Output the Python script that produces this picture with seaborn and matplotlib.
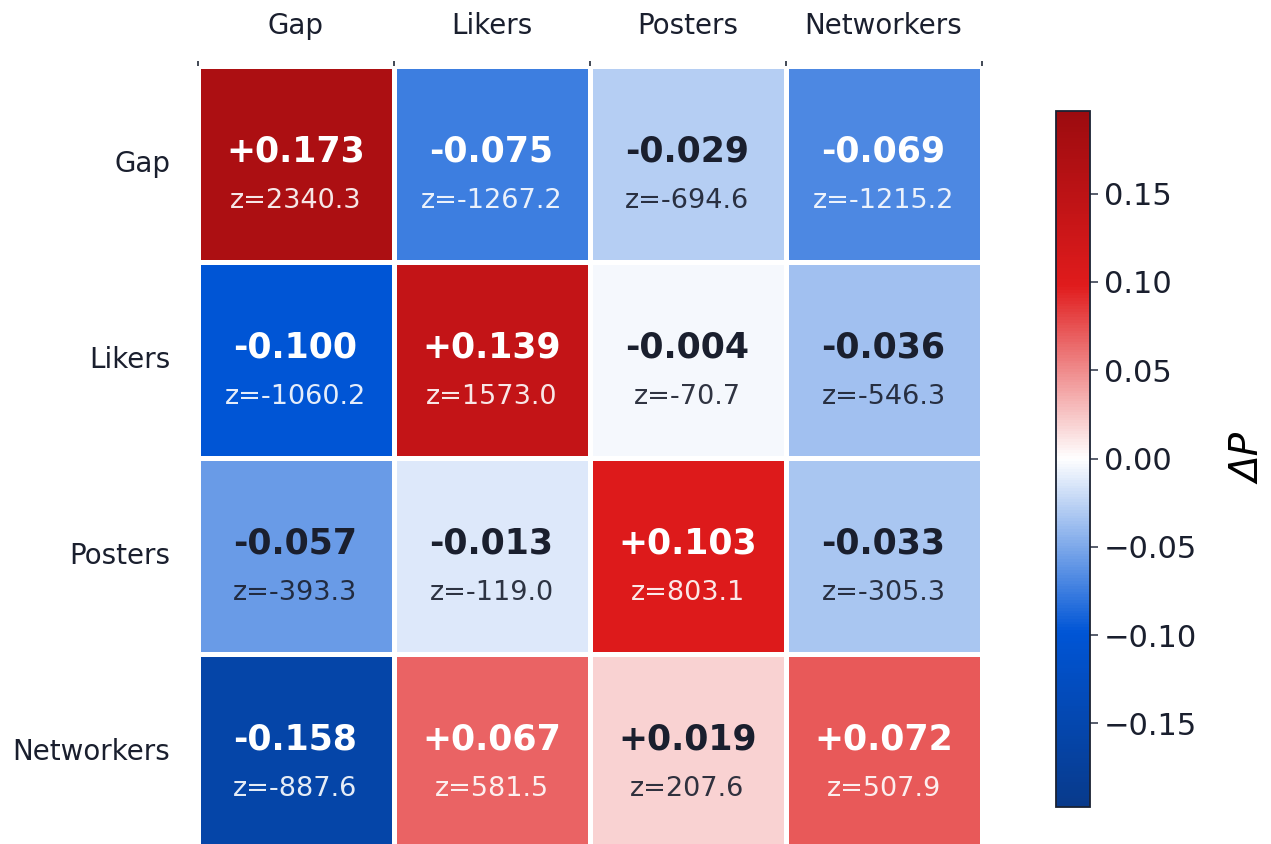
import numpy as np
import pandas as pd
import matplotlib
matplotlib.use("Agg")
import matplotlib.pyplot as plt
import seaborn as sns
from matplotlib.colors import LinearSegmentedColormap

groups = ["Gap", "Likers", "Posters", "Networkers"]
delta_p = [
    [0.173, -0.075, -0.029, -0.069],
    [-0.100, 0.139, -0.004, -0.036],
    [-0.057, -0.013, 0.103, -0.033],
    [-0.158, 0.067, 0.019, 0.072],
]
z_scores = [
    [2340.3, -1267.2, -694.6, -1215.2],
    [-1060.2, 1573.0, -70.7, -546.3],
    [-393.3, -119.0, 803.1, -305.3],
    [-887.6, 581.5, 207.6, 507.9],
]
cbar_ticks = [-0.15, -0.10, -0.05, 0.00, 0.05, 0.10, 0.15]

sns.set_style("white")
plt.rcParams["font.family"] = ["DejaVu Sans"]

dark = "#1a1f2e"
cmap = LinearSegmentedColormap.from_list(
    "bwr_custom", ["#083a8b", "#0055d6", "#ffffff", "#e01b1c", "#9c0b0f"]
)
vlim = 0.197

df = pd.DataFrame(delta_p, index=groups, columns=groups)

fig = plt.figure(figsize=(12.71, 8.44), dpi=100)
ax = fig.add_axes([197.5 / 1271, 1 - 849.5 / 844, 784 / 1271, 784 / 844])
cax = fig.add_axes([1055.5 / 1271, 1 - 806.5 / 844, 34 / 1271, 696 / 844])

sns.heatmap(df, ax=ax, cmap=cmap, vmin=-vlim, vmax=vlim, linewidths=2.2,
            linecolor="white", cbar=True, cbar_ax=cax, square=False)

for i in range(4):
    for j in range(4):
        v = delta_p[i][j]
        z = z_scores[i][j]
        col = "white" if abs(v) > 0.06 else dark
        ax.text(j + 0.5, i + 0.5 - 0.063, f"{v:+.3f}", ha="center", va="center",
                fontsize=25, fontweight="bold", color=col)
        ax.text(j + 0.5, i + 0.5 + 0.19, f"z={z:.1f}", ha="center", va="center",
                fontsize=19.5, color=col, alpha=0.9)

ax.xaxis.tick_top()
ax.set_xlabel("")
ax.set_ylabel("")
ax.set_xticklabels(groups, fontsize=20, color=dark)
ax.set_yticklabels(groups, fontsize=20, color=dark, rotation=0)
ax.tick_params(axis="x", which="major", length=0, pad=18.5)
ax.tick_params(axis="y", which="major", length=0, pad=19.5)
ax.set_xticks(np.arange(5), minor=True)
ax.tick_params(axis="x", which="minor", top=True, bottom=False, length=3.5,
               width=1.3, color="#333a48")

cbar = ax.collections[0].colorbar
cbar.set_ticks(cbar_ticks)
cbar.ax.tick_params(labelsize=22, colors=dark, length=6, width=1.3, pad=4.5)
cbar.ax.tick_params(color="#4a5060")
cbar.outline.set_edgecolor("#1a2233")
cbar.outline.set_linewidth(1.3)
cbar.set_label("ΔP", fontsize=28, fontstyle="italic", color="black", labelpad=24)

fig.savefig("out.png", dpi=100)
